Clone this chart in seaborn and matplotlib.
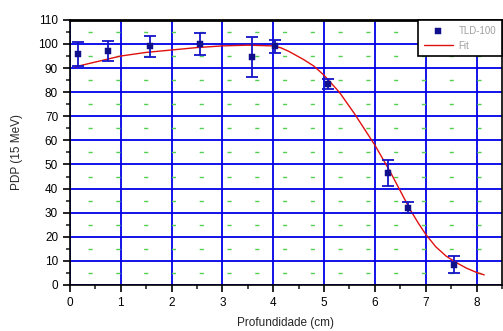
import numpy as np
import pandas as pd
import matplotlib
matplotlib.use("Agg")
import matplotlib.pyplot as plt
import seaborn as sns
from matplotlib.ticker import MultipleLocator

# pontos medidos (TLD-100) com barras de erro
prof_tld = [0.16, 0.75, 1.57, 2.56, 3.58, 4.03, 5.08, 6.26, 6.65, 7.56]
pdp_tld = [96.0, 97.0, 99.0, 100.0, 94.5, 99.0, 83.5, 46.5, 32.0, 8.5]
erro_tld = [5.0, 4.2, 4.5, 4.5, 8.2, 2.6, 2.0, 5.5, 2.3, 3.7]

# curva ajustada
prof_fit = [0.1, 0.5, 1.0, 1.5, 2.0, 2.5, 3.0, 3.5, 4.0, 4.15, 4.3, 4.6, 4.8,
            5.0, 5.3, 5.6, 5.8, 6.0, 6.15, 6.3, 6.5, 6.7, 6.85, 7.0, 7.2, 7.4,
            7.6, 7.8, 8.0, 8.15]
pdp_fit = [90.5, 92.5, 95.0, 96.5, 97.5, 98.5, 99.2, 99.5, 99.2, 98.4, 97.0,
           93.5, 90.8, 87.0, 80.0, 71.0, 64.5, 58.0, 52.5, 47.0, 39.0, 31.0,
           25.8, 21.0, 15.8, 12.0, 9.3, 7.0, 5.2, 4.2]

df_tld = pd.DataFrame({"prof": prof_tld, "pdp": pdp_tld, "erro": erro_tld})
df_fit = pd.DataFrame({"prof": prof_fit, "pdp": pdp_fit})

sns.set_style("white")
plt.rcParams["font.family"] = ["Liberation Sans", "DejaVu Sans"]

fig = plt.figure(figsize=(5.03, 3.31), dpi=100)
ax = fig.add_axes([0.139, 0.139, 0.859, 0.801])

# grade principal azul e secundaria verde tracejada
ax.set_axisbelow(True)
ax.grid(which="major", color="#0000e6", linewidth=1.3)
ax.grid(which="minor", axis="y", color="#55d055", linewidth=1.0,
        linestyle=(7, (3, 17)))

sns.lineplot(data=df_fit, x="prof", y="pdp", color="#e01010", linewidth=1.0,
             ax=ax, label="Fit", zorder=3)
ax.errorbar(df_tld["prof"], df_tld["pdp"], yerr=df_tld["erro"], fmt="none",
            ecolor="#1414c8", elinewidth=1.3, capsize=4, capthick=1.3, zorder=4)
sns.scatterplot(data=df_tld, x="prof", y="pdp", marker="s", s=16,
                color="#10108c", edgecolor="#10108c", ax=ax, label="TLD-100",
                zorder=5)

ax.set_xlim(0, 8.5)
ax.set_ylim(0, 110)
ax.xaxis.set_major_locator(MultipleLocator(1))
ax.xaxis.set_minor_locator(MultipleLocator(0.5))
ax.yaxis.set_major_locator(MultipleLocator(10))
ax.yaxis.set_minor_locator(MultipleLocator(5))
ax.tick_params(which="major", direction="out", length=5, width=1.2,
               labelsize=8.5, colors="black", bottom=True, left=True)
ax.tick_params(which="minor", direction="out", length=3, width=1.2,
               bottom=True, left=True)

for lado in ["left", "bottom", "right"]:
    ax.spines[lado].set_color("black")
    ax.spines[lado].set_linewidth(1.2)
ax.spines["top"].set_color("black")
ax.spines["top"].set_linewidth(2.0)

ax.set_xlabel("Profundidade (cm)", fontsize=8.5, labelpad=6)
ax.set_ylabel("PDP (15 MeV)", fontsize=8.5, labelpad=11)

handles, labels = ax.get_legend_handles_labels()
ordem = [labels.index("TLD-100"), labels.index("Fit")]
leg = ax.legend([handles[i] for i in ordem], [labels[i] for i in ordem],
                loc="upper right", fontsize=7, frameon=True, fancybox=False,
                borderaxespad=0.0, handlelength=3.0, labelcolor="#a0a0a0",
                borderpad=0.6, handletextpad=0.6)
leg.get_frame().set_edgecolor("black")
leg.get_frame().set_linewidth(1.2)
leg.get_frame().set_alpha(1.0)

fig.savefig("out.png", dpi=100)
